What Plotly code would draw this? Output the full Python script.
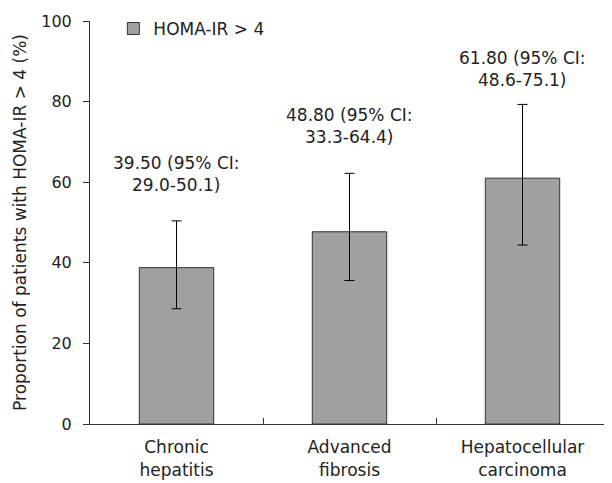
import plotly.graph_objects as go

categories = ["Chronic<br>hepatitis", "Advanced<br>fibrosis", "Hepatocellular<br>carcinoma"]
values = [38.8, 47.7, 61.0]
err_plus = [11.6, 14.5, 18.3]
err_minus = [10.2, 12.1, 16.6]
labels = ["39.50 (95% CI:<br>29.0-50.1)", "48.80 (95% CI:<br>33.3-64.4)", "61.80 (95% CI:<br>48.6-75.1)"]
label_y = [62, 74, 88]
y_ticks = [0, 20, 40, 60, 80, 100]

FONT = "DejaVu Sans"

fig = go.Figure()
fig.add_trace(go.Bar(
    x=categories, y=values, name="HOMA-IR > 4",
    marker=dict(color="#a0a0a0", line=dict(color="#333333", width=1)),
    width=0.43,
    error_y=dict(type="data", symmetric=False, array=err_plus, arrayminus=err_minus,
                 color="black", thickness=1, width=5),
))

for c, t, yy in zip(categories, labels, label_y):
    fig.add_annotation(x=c, y=yy, text=t, showarrow=False, xref="x", yref="y",
                       font=dict(family=FONT, size=17, color="#222"), align="center")

fig.update_layout(
    width=604, height=475,
    margin=dict(l=82, r=3, t=11, b=59),
    plot_bgcolor="white", paper_bgcolor="white",
    font=dict(family=FONT, size=16, color="#222"),
    showlegend=True,
    legend=dict(x=0.045, y=1.025, xanchor="left", yanchor="top",
                bgcolor="rgba(0,0,0,0)", font=dict(family=FONT, size=17)),
    xaxis=dict(range=[-0.5, 2.5], showline=True, linecolor="#333", linewidth=1,
               ticks="inside", tickson="boundaries", ticklen=6, tickcolor="#333",
               ticklabelstandoff=8,
               tickfont=dict(family=FONT, size=17), showgrid=False, automargin=False),
    yaxis=dict(range=[0, 100], tickvals=y_ticks, showline=True, linecolor="#333",
               linewidth=1, ticks="outside", ticklen=6, tickcolor="#333",
               showgrid=False, zeroline=False, automargin=False,
               ticklabelstandoff=8,
               tickfont=dict(family=FONT, size=16),
               title=dict(text="Proportion of patients with HOMA-IR > 4 (%)",
                          font=dict(family=FONT, size=17), standoff=10)),
)

fig.write_html("out.html")
